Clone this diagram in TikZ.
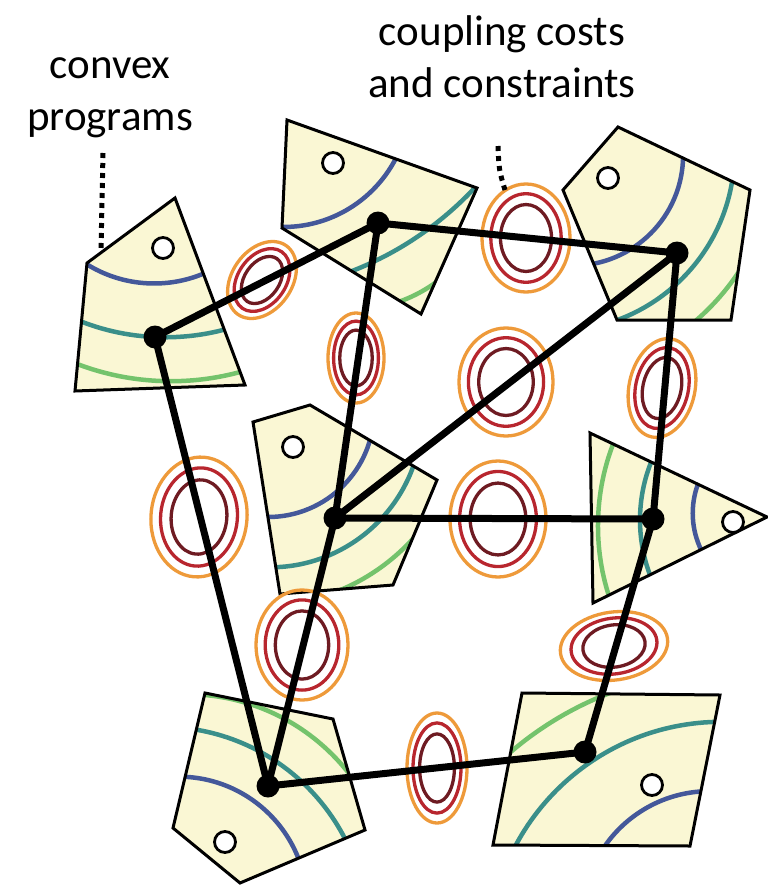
\documentclass[tikz,border=0pt]{standalone}
\usepackage{fontspec}
\setmainfont{Carlito}
\definecolor{pfill}{RGB}{250,247,212}
\definecolor{cblue}{RGB}{68,88,154}
\definecolor{cteal}{RGB}{58,143,138}
\definecolor{cgreen}{RGB}{116,195,108}
\definecolor{rorange}{RGB}{238,154,58}
\definecolor{rred}{RGB}{184,38,46}
\definecolor{rdark}{RGB}{110,27,34}
\tikzset{
  polyline/.style={draw=black,line width=3pt,line join=miter},
  contb/.style={draw=cblue,line width=4.5pt},
  contt/.style={draw=cteal,line width=4.5pt},
  contg/.style={draw=cgreen,line width=4.5pt},
  hole/.style={draw=black,fill=white,line width=2.8pt},
  ringo/.style={draw=rorange,line width=3.3pt},
  ringr/.style={draw=rred,line width=3.3pt},
  ringd/.style={draw=rdark,line width=3.3pt},
  edge/.style={draw=black,line width=7pt},
  dotnode/.style={circle,fill=black,inner sep=0pt,minimum size=23pt},
  leader/.style={draw=black,line width=5pt,dash pattern=on 5pt off 5pt},
  lbl/.style={align=center,font=\fontsize{43}{52}\selectfont}
}
\newcommand\crings[5]{%
  \pgfmathsetmacro\rxa{0.8*#3}\pgfmathsetmacro\rya{0.82*#4}%
  \pgfmathsetmacro\rxb{0.58*#3}\pgfmathsetmacro\ryb{0.62*#4}%
  \begin{scope}[rotate around={#5:(#1,#2)}]
    \draw[ringo] (#1,#2) ellipse [x radius=#3pt, y radius=#4pt];
    \draw[ringr] (#1,#2) ellipse [x radius={\rxa pt}, y radius={\rya pt}];
    \draw[ringd] (#1,#2) ellipse [x radius={\rxb pt}, y radius={\ryb pt}];
  \end{scope}}
% circle through three points (clipped by the polygon)
\newcommand\carc[7]{%
  \pgfmathsetmacro\qbx{(#4-#2)/10}\pgfmathsetmacro\qby{(#5-#3)/10}%
  \pgfmathsetmacro\qcx{(#6-#2)/10}\pgfmathsetmacro\qcy{(#7-#3)/10}%
  \pgfmathsetmacro\qd{2*(\qbx*\qcy-\qby*\qcx)}%
  \pgfmathsetmacro\qbb{\qbx*\qbx+\qby*\qby}%
  \pgfmathsetmacro\qcc{\qcx*\qcx+\qcy*\qcy}%
  \pgfmathsetmacro\qux{(\qcy*\qbb-\qby*\qcc)/\qd}%
  \pgfmathsetmacro\quy{(\qbx*\qcc-\qcx*\qbb)/\qd}%
  \pgfmathsetmacro\qr{10*veclen(\qux,\quy)}%
  \pgfmathsetmacro\qox{#2+10*\qux}\pgfmathsetmacro\qoy{#3+10*\quy}%
  \draw[#1] (\qox,\qoy) circle [radius={\qr pt}];}
\newcommand\cpoly[5]{% #1 path, #2 blue, #3 teal, #4 green, #5 hole
  \begin{scope}
    \fill[pfill] #1 -- cycle;
    \clip #1 -- cycle;
    \carc{contb}#2
    \carc{contt}#3
    \carc{contg}#4
  \end{scope}
  \draw[polyline] #1 -- cycle;
  \draw[hole] #5 circle [radius=10.5pt];}
\begin{document}
\begin{tikzpicture}[x=1pt,y=-1pt]
\useasboundingbox (0,0) rectangle (768,886);
% convex programs (polygons)
\cpoly{(175,198) -- (245,385) -- (75,391) -- (87,263)}
  {{88}{265}{143}{283}{200}{275}}
  {{85}{323}{153}{337}{223}{330}}
  {{80}{365}{160}{381}{240}{372}}{(163,248)}
\cpoly{(287,120) -- (477,188) -- (421,314) -- (282,228)}
  {{395}{160}{350}{208}{285}{227}}
  {{470}{193}{408}{243}{347}{273}}
  {{435}{283}{415}{295}{392}{304}}{(333,163)}
\cpoly{(618,127) -- (750,190) -- (731,320) -- (617,320) -- (563,190)}
  {{683}{160}{648}{236}{597}{263}}
  {{732}{182}{696}{263}{625}{317}}
  {{740}{270}{717}{300}{700}{317}}{(608,178)}
\cpoly{(253,422) -- (310,405) -- (437,480) -- (393,585) -- (280,594)}
  {{370}{440}{324}{501}{270}{517}}
  {{413}{467}{361}{537}{280}{567}}
  {{410}{542}{380}{568}{345}{588}}{(293,447)}
\cpoly{(590,433) -- (767,517) -- (593,603)}
  {{698}{484}{693}{520}{707}{560}}
  {{652}{460}{640}{520}{652}{580}}
  {{612}{447}{598}{520}{608}{593}}{(733,522)}
\cpoly{(205,693) -- (333,719) -- (365,830) -- (240,883) -- (173,828)}
  {{188}{777}{265}{810}{297}{855}}
  {{198}{730}{284}{767}{343}{835}}
  {{205}{695}{290}{722}{342}{765}}{(225,842)}
\cpoly{(522,693) -- (720,695) -- (690,846) -- (493,845)}
  {{695}{792}{643}{810}{607}{843}}
  {{712}{722}{600}{756}{517}{843}}
  {{593}{700}{550}{723}{513}{750}}{(652,785)}
% coupling costs (rings)
\crings{262}{280}{30}{42}{-35}
\crings{356}{358}{28}{45}{0}
\crings{526}{238}{44}{54}{0}
\crings{506}{382}{47}{54}{0}
\crings{662}{388}{33}{50}{-12}
\crings{199}{517}{48}{60}{-5}
\crings{498}{519}{48}{58}{0}
\crings{302}{645}{46}{55}{0}
\crings{614}{646}{54}{34}{8}
\crings{437}{768}{30}{55}{0}
% graph
\coordinate (A) at (155,337);
\coordinate (B) at (378,223);
\coordinate (C) at (677,253);
\coordinate (D) at (335,518);
\coordinate (E) at (653,519);
\coordinate (F) at (268,786);
\coordinate (G) at (585,752);
\draw[edge] (A) -- (B);
\draw[edge] (A) -- (F);
\draw[edge] (B) -- (C);
\draw[edge] (B) -- (D);
\draw[edge] (C) -- (D);
\draw[edge] (C) -- (E);
\draw[edge] (D) -- (E);
\draw[edge] (D) -- (F);
\draw[edge] (E) -- (G);
\draw[edge] (F) -- (G);
\foreach \n in {A,B,C,D,E,F,G} \node[dotnode] (dot\n) at (\n) {};
% labels
\node[lbl,anchor=base] (lconv) at (110,130) {convex\\programs};
\node[lbl,anchor=base] (lcoup) at (502,97) {coupling costs\\and constraints};
\coordinate (lc1) at (103,153);
\coordinate (lc2) at (101,250);
\coordinate (lp1) at (498,146);
\coordinate (lp2) at (505,190);
\draw[leader] (lc1) -- (lc2);
\draw[leader] (lp1) .. controls (499,170) .. (lp2);
\end{tikzpicture}
\end{document}
